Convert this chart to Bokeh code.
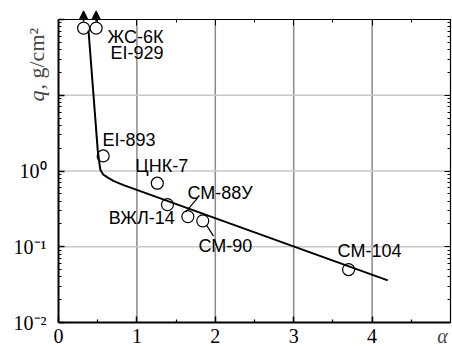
from bokeh.plotting import figure
from bokeh.models import (Range1d, LinearAxis, LogAxis, FixedTicker, LogTicker,
                          CustomJSTickFormatter, Label, Arrow, NormalHead, ColumnDataSource)
from bokeh.core.properties import value
from bokeh.embed import file_html
from bokeh.resources import INLINE

# ---- data ----
point_x = [0.32, 0.48, 0.57, 1.26, 1.39, 1.65, 1.84, 3.70]
point_y = [77, 77, 1.58, 0.69, 0.36, 0.25, 0.22, 0.05]

curve_x = [0.383, 0.50, 0.52, 0.535, 0.57, 0.62, 0.70, 0.83, 4.2]
curve_y = [71, 1.9, 1.3, 1.03, 0.90, 0.83, 0.74, 0.65, 0.036]

label_text = ["ЖС-6К", "EI-929", "EI-893", "ЦНК-7", "ВЖЛ-14", "СМ-88У", "СМ-90", "СМ-104"]
label_x = [0.625, 0.663, 0.56, 0.98, 0.64, 1.645, 1.786, 3.56]
label_y = [59.6, 36.6, 2.57, 1.16, 0.24, 0.51, 0.102, 0.089]

leader_x0 = [1.62, 1.888]
leader_y0 = [0.286, 0.193]
leader_x1 = [1.773, 1.977]
leader_y1 = [0.438, 0.138]

arrow_x = [0.32, 0.48]
arrow_y0 = [94, 94]
arrow_y1 = [130, 130]

x_lim = (0, 5)
y_lim = (0.01, 100)
x_ticks = [0, 1, 2, 3, 4]
x_minor = [0.5, 1.5, 2.5, 3.5, 4.5]
x_tick_labels = ["0", "1", "2", "3", "4"]
x_grid = [1, 2, 3, 4]
y_grid = [0.1, 1, 10]
y_tick_exps = [-2, -1, 0]
y_tick_labels = ["10⁻²", "10⁻¹", "10⁰"]

SERIF = "Liberation Serif"
SANS = "Liberation Sans"

# frame covers the whole canvas; axes are placed at fixed data locations
p = figure(width=452, height=347, y_axis_type="log", output_backend="svg",
           toolbar_location=None,
           x_range=Range1d(-0.7398, 5.0255), y_range=Range1d(0.004677, 178.2),
           min_border=0)
p.outline_line_color = None
p.background_fill_color = "white"
p.border_fill_color = "white"
p.grid.visible = False

# grid lines (bounded to the plot box)
n = len(x_grid)
p.segment(x0=x_grid, y0=[y_lim[0]] * n, x1=x_grid, y1=[y_lim[1]] * n,
          line_color="#8a8a8a", line_width=1.5)
m = len(y_grid)
p.segment(x0=[x_lim[0]] * m, y0=y_grid, x1=[x_lim[1]] * m, y1=y_grid,
          line_color="#c8c8c8", line_width=1.5)

# bottom / left axes
xa = p.xaxis[0]
xa.fixed_location = y_lim[0]
xa.bounds = x_lim
xa.ticker = FixedTicker(ticks=x_ticks, minor_ticks=x_minor)
xa.formatter = CustomJSTickFormatter(args=dict(xt=x_ticks, xl=x_tick_labels), code="""
    const i = xt.indexOf(Math.round(tick));
    return i >= 0 ? xl[i] : "";
""")
ya = p.yaxis[0]
ya.fixed_location = x_lim[0]
ya.bounds = y_lim
ya.ticker = LogTicker(num_minor_ticks=10)
ya.formatter = CustomJSTickFormatter(args=dict(exps=y_tick_exps, yl=y_tick_labels), code="""
    const e = Math.round(Math.log10(tick));
    const i = exps.indexOf(e);
    return i >= 0 ? yl[i] : "";
""")

for ax in (xa, ya):
    ax.axis_line_width = 2
    ax.axis_line_color = "black"
    ax.major_tick_in = 6
    ax.major_tick_out = 0
    ax.minor_tick_in = 3
    ax.minor_tick_out = 0
    ax.major_tick_line_width = 1.5
    ax.minor_tick_line_width = 1.2
    ax.major_label_text_font = SERIF
    ax.major_label_text_font_size = "20px"
    ax.major_label_text_color = "black"
xa.major_label_standoff = 6
ya.major_label_standoff = 12

# top / right axes (frame with inward ticks, no labels)
top = LinearAxis(ticker=FixedTicker(ticks=x_ticks, minor_ticks=x_minor),
                 formatter=CustomJSTickFormatter(code="return '';"),
                 fixed_location=y_lim[1], bounds=x_lim)
right = LogAxis(ticker=LogTicker(num_minor_ticks=10),
                formatter=CustomJSTickFormatter(code="return '';"),
                fixed_location=x_lim[1], bounds=y_lim)
for ax in (top, right):
    ax.axis_line_width = 1.2
    ax.major_tick_in = 6
    ax.major_tick_out = 0
    ax.minor_tick_in = 3
    ax.minor_tick_out = 0
    ax.major_label_standoff = 0
p.add_layout(top, "above")
p.add_layout(right, "right")

# curve
p.line(curve_x, curve_y, line_color="black", line_width=2)

# leader lines
p.segment(x0=leader_x0, y0=leader_y0, x1=leader_x1, y1=leader_y1, line_color="black", line_width=1.2)

# points
p.scatter(point_x, point_y, marker="circle", size=12, fill_alpha=0,
          line_color="black", line_width=1.2)

# arrows
for ax_, y0, y1 in zip(arrow_x, arrow_y0, arrow_y1):
    p.add_layout(Arrow(x_start=ax_, y_start=y0, x_end=ax_, y_end=y1, line_width=1.5,
                       end=NormalHead(size=8, fill_color="black", line_color="black")))

# material labels
src = ColumnDataSource(dict(x=label_x, y=label_y, t=label_text))
p.text(x="x", y="y", text="t", source=src, text_font=value(SANS), text_font_size="18px",
       text_align="left", text_baseline="middle", text_color="black")

# axis titles
p.add_layout(Label(x=36, y=101, x_units="canvas", y_units="canvas", text="q", angle=1.5708,
                   text_font=SERIF, text_font_style="italic", text_font_size="22px",
                   text_baseline="alphabetic", text_align="left"))
p.add_layout(Label(x=36, y=89, x_units="canvas", y_units="canvas", text=", g/cm²", angle=1.5708,
                   text_font=SERIF, text_font_size="22px",
                   text_baseline="alphabetic", text_align="left"))
p.add_layout(Label(x=442, y=335, x_units="canvas", y_units="canvas", text="α",
                   text_font=SERIF, text_font_style="italic", text_font_size="20px",
                   text_baseline="alphabetic", text_align="center"))

open("out.html", "w").write(file_html(p, INLINE))
